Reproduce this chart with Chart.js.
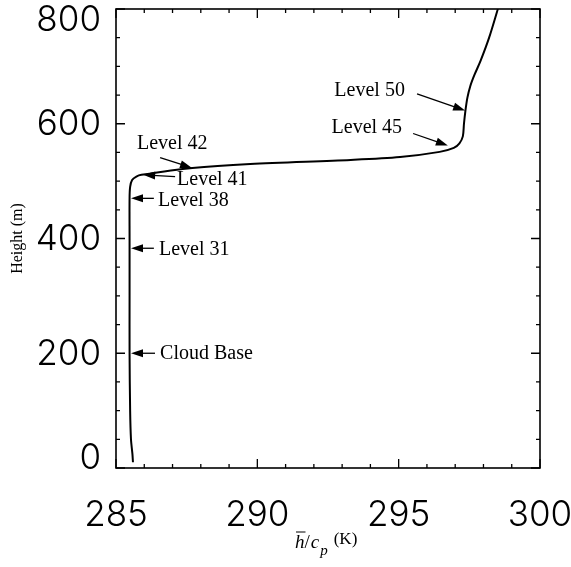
<!DOCTYPE html>
<html>
<head>
<meta charset="utf-8">
<script src="https://cdn.jsdelivr.net/npm/chart.js@4/dist/chart.umd.min.js"></script>
<style>
  html, body { margin: 0; padding: 0; background: #fff; }
  #wrap { width: 571px; height: 567px; }
</style>
</head>
<body>
<div id="wrap"><canvas id="chart" width="571" height="567"></canvas></div>
<script>
// Liquid water static energy profile (h/cp) against height
const hOverCp = [285.60, 285.58, 285.53, 285.50, 285.48, 285.48, 285.48, 285.48, 285.50, 285.57,
                 285.72, 285.90, 287.70, 289.75, 293.30, 295.05, 296.45, 296.95, 297.15, 297.27,
                 297.31, 297.36, 297.43, 297.53, 297.68, 297.90, 298.20, 298.51];
const heightM = [10, 25, 50, 100, 200, 300, 400, 470, 490, 502,
                 508, 511, 523, 530, 537, 542, 551, 558, 566, 578,
                 600, 622, 645, 665, 685, 710, 750, 800];

const xTicks = [285, 290, 295, 300];
const yTicks = [0, 200, 400, 600, 800];

// labelled model levels: text anchor, arrow tail and arrow tip (data units)
const levelNames = ["Level 50", "Level 45", "Level 42", "Level 41", "Level 38", "Level 31", "Cloud Base"];
const levelText = [[295.22, 657], [295.12, 593], [285.74, 565], [287.16, 503], [286.49, 466], [286.52, 381], [286.56, 200]];
const levelAlign = ["right", "right", "left", "left", "left", "left", "left"];
const arrowTail = [[295.65, 652], [295.51, 583], [286.56, 541], [287.09, 508], [286.34, 470], [286.34, 383], [286.38, 200]];
const arrowTip = [[297.35, 623], [296.74, 562], [287.69, 523], [285.96, 511], [285.53, 470], [285.53, 383], [285.53, 200]];

const points = hOverCp.map((x, i) => ({ x: x, y: heightM[i] }));

const tickFont = "300 35px Inter, 'Liberation Sans'";

function drawArrow(ctx, x0, y0, x1, y1) {
    const ang = Math.atan2(y1 - y0, x1 - x0);
    const len = 12, half = 4;
    ctx.beginPath();
    ctx.moveTo(x0, y0);
    ctx.lineTo(x1 - Math.cos(ang) * len * 0.8, y1 - Math.sin(ang) * len * 0.8);
    ctx.stroke();
    ctx.beginPath();
    ctx.moveTo(x1, y1);
    ctx.lineTo(x1 - Math.cos(ang) * len - Math.sin(ang) * half, y1 - Math.sin(ang) * len + Math.cos(ang) * half);
    ctx.lineTo(x1 - Math.cos(ang) * len + Math.sin(ang) * half, y1 - Math.sin(ang) * len - Math.cos(ang) * half);
    ctx.closePath();
    ctx.fill();
}

// frame, inward ticks on all four sides, y labels, x title and level arrows
const decorations = {
    id: "decorations",
    afterDraw(chart) {
        const ctx = chart.ctx;
        const a = chart.chartArea;
        const xs = chart.scales.x, ys = chart.scales.y;
        ctx.save();
        ctx.strokeStyle = "#000";
        ctx.fillStyle = "#000";
        ctx.lineWidth = 1.6;
        ctx.strokeRect(a.left, a.top, a.right - a.left, a.bottom - a.top);

        ctx.lineWidth = 1.3;
        ctx.beginPath();
        for (let v = 285; v <= 300; v++) {
            const px = xs.getPixelForValue(v);
            const l = v % 5 === 0 ? 9 : 4;
            ctx.moveTo(px, a.bottom); ctx.lineTo(px, a.bottom - l);
            ctx.moveTo(px, a.top); ctx.lineTo(px, a.top + l);
        }
        for (let v = 0; v <= 800; v += 50) {
            const py = ys.getPixelForValue(v);
            const l = v % 200 === 0 ? 9 : 4;
            ctx.moveTo(a.left, py); ctx.lineTo(a.left + l, py);
            ctx.moveTo(a.right, py); ctx.lineTo(a.right - l, py);
        }
        ctx.stroke();

        // y tick labels, kept inside the frame height
        ctx.font = tickFont;
        ctx.textAlign = "right";
        ctx.textBaseline = "middle";
        yTicks.forEach(v => {
            let py = ys.getPixelForValue(v);
            py = Math.min(Math.max(py, a.top + 10), a.bottom - 11);
            ctx.fillText(String(v), a.left - 15, py + 1);
        });

        // x axis title: h-bar / c_p (K)
        ctx.textAlign = "left";
        ctx.textBaseline = "alphabetic";
        const base = 548;
        let x = 295;
        ctx.font = "italic 19px 'Liberation Serif'";
        const hw = ctx.measureText("h").width;
        ctx.fillText("h", x, base);
        ctx.lineWidth = 1;
        ctx.beginPath();
        ctx.moveTo(x + 1, base - 16); ctx.lineTo(x + hw + 1, base - 16);
        ctx.stroke();
        x += hw;
        ctx.font = "19px 'Liberation Serif'";
        ctx.fillText("/", x, base);
        x += ctx.measureText("/").width + 1;
        ctx.font = "italic 19px 'Liberation Serif'";
        ctx.fillText("c", x, base);
        x += ctx.measureText("c").width + 1;
        ctx.font = "italic 15px 'Liberation Serif'";
        ctx.fillText("p", x, base + 7);
        x += ctx.measureText("p").width + 6;
        ctx.font = "17px 'Liberation Serif'";
        ctx.fillText("(K)", x, base - 4);

        // level annotations
        ctx.font = "20px 'Liberation Serif'";
        ctx.textBaseline = "middle";
        ctx.lineWidth = 1.3;
        levelNames.forEach((name, i) => {
            ctx.textAlign = levelAlign[i];
            ctx.fillText(name, xs.getPixelForValue(levelText[i][0]), ys.getPixelForValue(levelText[i][1]));
            drawArrow(ctx,
                xs.getPixelForValue(arrowTail[i][0]), ys.getPixelForValue(arrowTail[i][1]),
                xs.getPixelForValue(arrowTip[i][0]), ys.getPixelForValue(arrowTip[i][1]));
        });
        ctx.restore();
    }
};

const ctx = document.getElementById("chart").getContext("2d");
new Chart(ctx, {
    type: "scatter",
    data: {
        datasets: [{
            data: points,
            showLine: true,
            borderColor: "#000",
            borderWidth: 2,
            pointRadius: 0,
            tension: 0.3,
            fill: false
        }]
    },
    options: {
        responsive: false,
        animation: false,
        layout: { padding: { top: 9, right: 31, left: 0, bottom: 0 } },
        plugins: {
            legend: { display: false },
            tooltip: { enabled: false }
        },
        scales: {
            x: {
                type: "linear",
                min: 285,
                max: 300,
                afterFit: s => { s.height = 99; s.paddingLeft = 0; s.paddingRight = 0; },
                afterBuildTicks: s => { s.ticks = xTicks.map(v => ({ value: v })); },
                grid: { display: false },
                border: { display: false },
                ticks: {
                    color: "#000",
                    font: { family: "Inter, 'Liberation Sans'", size: 35, weight: 300, lineHeight: 1 },
                    padding: 22,
                    maxRotation: 0
                }
            },
            y: {
                type: "linear",
                min: 0,
                max: 800,
                afterFit: s => { s.width = 116; },
                grid: { display: false },
                border: { display: false },
                ticks: { display: false },
                title: {
                    display: true,
                    text: "Height (m)",
                    color: "#000",
                    font: { family: "'Liberation Serif'", size: 16 },
                    padding: { top: 8, bottom: 0 }
                }
            }
        }
    },
    plugins: [decorations]
});
</script>
</body>
</html>
